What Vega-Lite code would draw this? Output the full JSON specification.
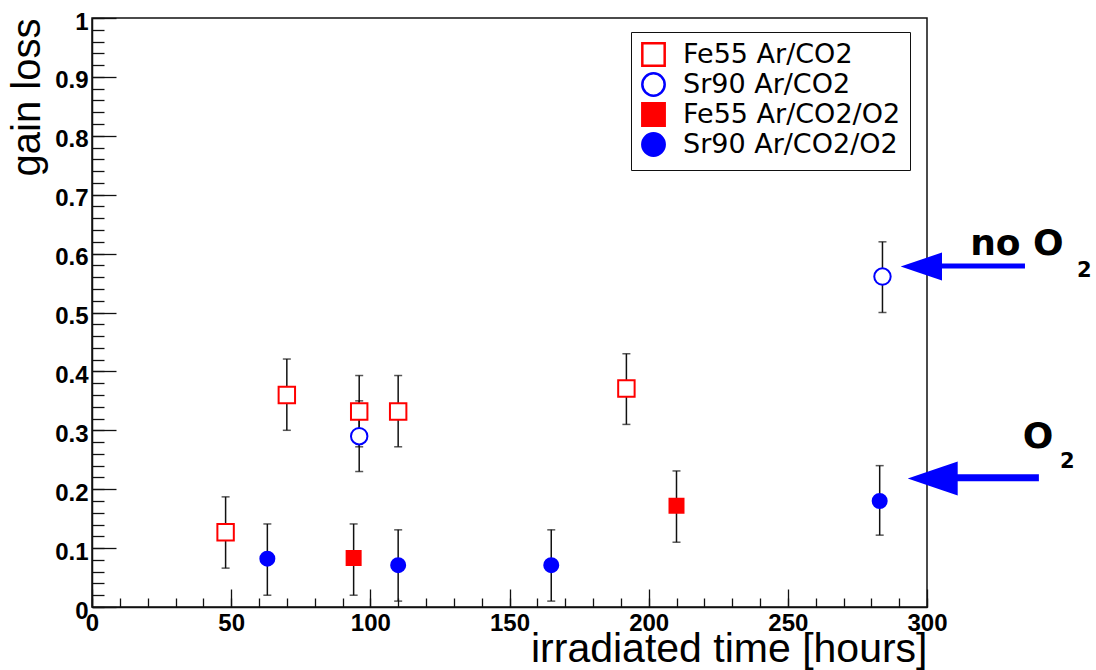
{
  "$schema": "https://vega.github.io/schema/vega-lite/v6.json",
  "width": 835,
  "height": 589,
  "autosize": "none",
  "padding": {"left": 92, "top": 18, "right": 169, "bottom": 63},
  "background": "white",
  "config": {
    "view": {"stroke": "#111111", "strokeWidth": 1.5}
  },
  "resolve": {"axis": {"x": "independent", "y": "independent"}},
  "datasets": {
    "points": [
      {"series": "Fe55 Ar/CO2", "t": 48, "v": 0.127, "lo": 0.066, "hi": 0.187},
      {"series": "Fe55 Ar/CO2", "t": 70, "v": 0.36, "lo": 0.3, "hi": 0.421},
      {"series": "Fe55 Ar/CO2", "t": 96, "v": 0.332, "lo": 0.272, "hi": 0.393},
      {"series": "Fe55 Ar/CO2", "t": 110, "v": 0.332, "lo": 0.272, "hi": 0.393},
      {"series": "Fe55 Ar/CO2", "t": 192, "v": 0.371, "lo": 0.31, "hi": 0.43},
      {"series": "Sr90 Ar/CO2", "t": 96, "v": 0.29, "lo": 0.23, "hi": 0.35},
      {"series": "Sr90 Ar/CO2", "t": 284, "v": 0.561, "lo": 0.5, "hi": 0.62},
      {"series": "Fe55 Ar/CO2/O2", "t": 94, "v": 0.083, "lo": 0.02, "hi": 0.141},
      {"series": "Fe55 Ar/CO2/O2", "t": 210, "v": 0.172, "lo": 0.11, "hi": 0.231},
      {"series": "Sr90 Ar/CO2/O2", "t": 63, "v": 0.082, "lo": 0.02, "hi": 0.141},
      {"series": "Sr90 Ar/CO2/O2", "t": 110, "v": 0.071, "lo": 0.01, "hi": 0.131},
      {"series": "Sr90 Ar/CO2/O2", "t": 165, "v": 0.071, "lo": 0.01, "hi": 0.131},
      {"series": "Sr90 Ar/CO2/O2", "t": 283, "v": 0.18, "lo": 0.122, "hi": 0.24}
    ],
    "shafts": [
      {"t": 301.1, "t2": 335.2, "v": 0.579, "w": 5},
      {"t": 306.5, "t2": 340.2, "v": 0.2195, "w": 7}
    ],
    "heads": [
      {"t": 297.96, "v": 0.578, "s": 1706},
      {"t": 302.05, "v": 0.2183, "s": 2500}
    ],
    "words": [
      {"t": 315.5, "v": 0.5976, "label": "no O"},
      {"t": 334.4, "v": 0.27, "label": "O"}
    ],
    "subs": [
      {"t": 353.9, "v": 0.5603, "label": "2"},
      {"t": 347.8, "v": 0.236, "label": "2"}
    ]
  },
  "layer": [
    {
      "data": {"name": "points"},
      "mark": {"type": "rule", "color": "#111111", "strokeWidth": 1.5},
      "encoding": {
        "x": {
          "field": "t", "type": "quantitative",
          "scale": {"domain": [0, 300], "nice": false, "zero": false},
          "title": "irradiated time [hours]",
          "axis": {
            "orient": "bottom",
            "values": [0, 50, 100, 150, 200, 250, 300],
            "format": "d",
            "labelOverlap": false,
            "labelFlush": false,
            "labelFont": "Liberation Sans",
            "labelFontWeight": "bold",
            "labelFontSize": 24,
            "labelColor": "#000000",
            "domainColor": "#111111",
            "domainWidth": 1.5,
            "tickColor": "#111111",
            "tickWidth": 1.3,
            "grid": false,
            "tickSize": -18,
            "labelPadding": 22,
            "titleFont": "Liberation Sans",
            "titleFontWeight": "normal",
            "titleColor": "#000000",
            "titleFontSize": 41,
            "titleAnchor": "end",
            "titlePadding": -6
          }
        },
        "y": {
          "field": "lo", "type": "quantitative",
          "scale": {"domain": [0, 1], "nice": false, "zero": false},
          "title": "gain loss",
          "axis": {
            "orient": "left",
            "values": [0, 0.1, 0.2, 0.3, 0.4, 0.5, 0.6, 0.7, 0.8, 0.9, 1],
            "format": "~g",
            "labelOverlap": false,
            "labelFlush": false,
            "labelFont": "Liberation Sans",
            "labelFontWeight": "bold",
            "labelFontSize": 24,
            "labelColor": "#000000",
            "domainColor": "#111111",
            "domainWidth": 1.5,
            "tickColor": "#111111",
            "tickWidth": 1.3,
            "grid": false,
            "tickSize": -24,
            "labelPadding": 28,
            "labelOffset": 4,
            "titleFont": "Liberation Sans",
            "titleFontWeight": "normal",
            "titleColor": "#000000",
            "titleFontSize": 40,
            "titleAnchor": "end",
            "titlePadding": 7
          }
        },
        "y2": {"field": "hi"}
      }
    },
    {
      "data": {"name": "points"},
      "mark": {"type": "tick", "orient": "horizontal", "color": "#111111", "size": 8, "thickness": 1.5},
      "encoding": {
        "x": {
          "field": "t", "type": "quantitative",
          "axis": {
            "orient": "bottom",
            "values": [0,10,20,30,40,50,60,70,80,90,100,110,120,130,140,150,160,170,180,190,200,210,220,230,240,250,260,270,280,290,300],
            "labels": false, "domain": false, "grid": false, "title": null,
            "tickColor": "#111111", "tickWidth": 1.3, "tickSize": -9
          }
        },
        "y": {
          "field": "lo", "type": "quantitative",
          "axis": {
            "orient": "left",
            "values": [0,0.02,0.04,0.06,0.08,0.1,0.12,0.14,0.16,0.18,0.2,0.22,0.24,0.26,0.28,0.3,0.32,0.34,0.36,0.38,0.4,0.42,0.44,0.46,0.48,0.5,0.52,0.54,0.56,0.58,0.6,0.62,0.64,0.66,0.68,0.7,0.72,0.74,0.76,0.78,0.8,0.82,0.84,0.86,0.88,0.9,0.92,0.94,0.96,0.98,1],
            "labels": false, "domain": false, "grid": false, "title": null,
            "tickColor": "#111111", "tickWidth": 1.3, "tickSize": -12
          }
        }
      }
    },
    {
      "data": {"name": "points"},
      "mark": {"type": "tick", "orient": "horizontal", "color": "#111111", "size": 8, "thickness": 1.5},
      "encoding": {
        "x": {"field": "t", "type": "quantitative", "axis": null},
        "y": {"field": "hi", "type": "quantitative", "axis": null}
      }
    },
    {
      "data": {"name": "points"},
      "mark": {"type": "point", "strokeWidth": 2, "opacity": 1, "filled": false},
      "encoding": {
        "x": {"field": "t", "type": "quantitative", "axis": null},
        "y": {"field": "v", "type": "quantitative", "axis": null},
        "shape": {
          "field": "series", "type": "nominal",
          "scale": {"domain": ["Fe55 Ar/CO2", "Sr90 Ar/CO2", "Fe55 Ar/CO2/O2", "Sr90 Ar/CO2/O2"], "range": ["square", "circle", "square", "circle"]},
          "legend": {
            "title": null, "orient": "none", "legendX": 539, "legendY": 14,
            "fillColor": "white", "strokeColor": "#111111", "padding": 9,
            "labelFont": "DejaVu Sans", "labelFontSize": 27, "labelColor": "#000000",
            "labelLimit": 400, "labelOffset": 16,
            "symbolSize": 500, "symbolStrokeWidth": 2.5, "rowPadding": -4
          }
        },
        "stroke": {
          "field": "series", "type": "nominal",
          "scale": {"domain": ["Fe55 Ar/CO2", "Sr90 Ar/CO2", "Fe55 Ar/CO2/O2", "Sr90 Ar/CO2/O2"], "range": ["#ff0000", "#0000ff", "#ff0000", "#0000ff"]},
          "legend": {
            "title": null, "orient": "none", "legendX": 539, "legendY": 14,
            "fillColor": "white", "strokeColor": "#111111", "padding": 9,
            "labelFont": "DejaVu Sans", "labelFontSize": 27, "labelColor": "#000000",
            "labelLimit": 400, "labelOffset": 16,
            "symbolSize": 500, "symbolStrokeWidth": 2.5, "rowPadding": -4
          }
        },
        "fill": {
          "field": "series", "type": "nominal",
          "scale": {"domain": ["Fe55 Ar/CO2", "Sr90 Ar/CO2", "Fe55 Ar/CO2/O2", "Sr90 Ar/CO2/O2"], "range": ["#ffffff", "#ffffff", "#ff0000", "#0000ff"]},
          "legend": {
            "title": null, "orient": "none", "legendX": 539, "legendY": 14,
            "fillColor": "white", "strokeColor": "#111111", "padding": 9,
            "labelFont": "DejaVu Sans", "labelFontSize": 27, "labelColor": "#000000",
            "labelLimit": 400, "labelOffset": 16,
            "symbolSize": 500, "symbolStrokeWidth": 2.5, "rowPadding": -4
          }
        },
        "size": {
          "condition": {"test": "datum.series === 'Fe55 Ar/CO2/O2' || datum.series === 'Sr90 Ar/CO2/O2'", "value": 196},
          "value": 270
        }
      }
    },
    {
      "data": {"name": "shafts"},
      "mark": {"type": "rule", "color": "#0000ff"},
      "encoding": {
        "x": {"field": "t", "type": "quantitative", "axis": null},
        "x2": {"field": "t2"},
        "y": {"field": "v", "type": "quantitative", "axis": null},
        "strokeWidth": {"field": "w", "type": "quantitative", "scale": null}
      }
    },
    {
      "data": {"name": "heads"},
      "mark": {"type": "point", "shape": "M-1,0L1,-0.68L1,0.68Z", "filled": true, "color": "#0000ff", "opacity": 1, "strokeWidth": 0},
      "encoding": {
        "x": {"field": "t", "type": "quantitative", "axis": null},
        "y": {"field": "v", "type": "quantitative", "axis": null},
        "size": {"field": "s", "type": "quantitative", "scale": null}
      }
    },
    {
      "data": {"name": "words"},
      "mark": {"type": "text", "font": "DejaVu Sans", "fontWeight": "bold", "fontSize": 36, "align": "left", "baseline": "alphabetic", "color": "#000000"},
      "encoding": {
        "x": {"field": "t", "type": "quantitative", "axis": null},
        "y": {"field": "v", "type": "quantitative", "axis": null},
        "text": {"field": "label"}
      }
    },
    {
      "data": {"name": "subs"},
      "mark": {"type": "text", "font": "DejaVu Sans", "fontWeight": "bold", "fontSize": 21, "align": "left", "baseline": "alphabetic", "color": "#000000"},
      "encoding": {
        "x": {"field": "t", "type": "quantitative", "axis": null},
        "y": {"field": "v", "type": "quantitative", "axis": null},
        "text": {"field": "label"}
      }
    }
  ]
}
